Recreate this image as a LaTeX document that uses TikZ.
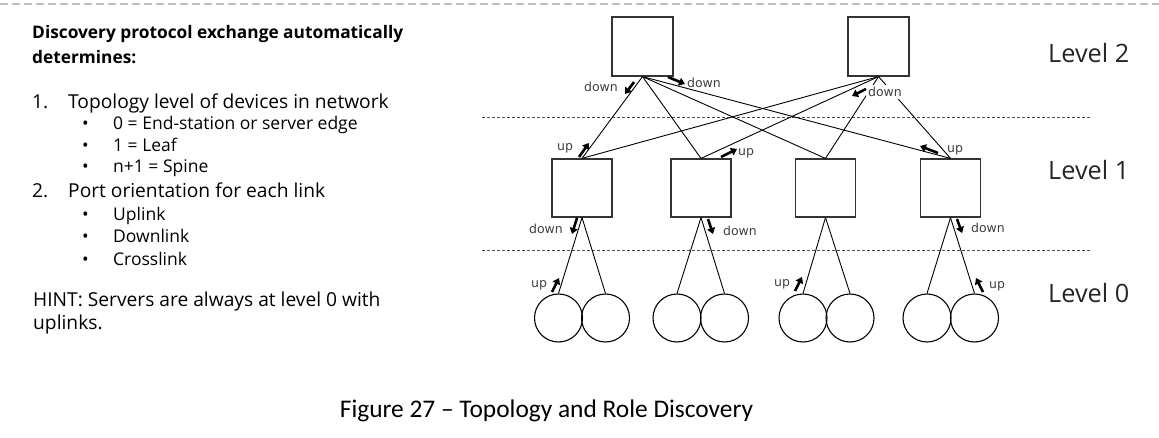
\documentclass[tikz,border=0pt]{standalone}
\usepackage{fontspec}
\setmainfont{Open Sans}
\newfontfamily\capfont{Carlito}
\newfontfamily\tagfont{DejaVu Sans}
\usetikzlibrary{arrows.meta}

\begin{document}
\begin{tikzpicture}[x=1pt,y=-1pt,
  switch/.style={draw=black!80,line width=1.2pt,minimum width=60pt,minimum height=58pt,inner sep=0pt},
  server/.style={draw=black,line width=1.1pt,circle,minimum size=48pt,inner sep=0pt},
  link/.style={black,line width=0.9pt},
  tag/.style={font=\tagfont\fontsize{12.5}{14}\selectfont,text=black!75,inner sep=1pt},
  mask/.style={fill=white,inner sep=2.5pt},
  dir/.style={line width=2.6pt,-{Triangle[length=6pt,width=8pt]}},
  levelline/.style={black!70,line width=1pt,dash pattern=on 3pt off 2pt},
  level/.style={font=\fontsize{25.3}{30}\selectfont,text=black!85,anchor=west,inner sep=0pt},
  txt/.style={anchor=base west,inner sep=0pt}]
\useasboundingbox (0,0) rectangle (1159,438);
\draw[black!25,line width=1.3pt,dash pattern=on 8pt off 4pt] (0,4) -- (1159,4);

% left text
\node[txt,font=\bfseries\fontsize{17.3}{21}\selectfont] (head1) at (32,39) {Discovery protocol exchange automatically};
\node[txt,font=\bfseries\fontsize{17.3}{21}\selectfont] (head2) at (32,64) {determines:};
\node[txt,font=\fontsize{19.2}{23}\selectfont] (num1) at (32,109) {1.};
\node[txt,font=\fontsize{19.2}{23}\selectfont] (item1) at (68,109) {Topology level of devices in network};
\node[txt,font=\fontsize{17.5}{21}\selectfont] (dot1) at (82,130) {•};
\node[txt,font=\fontsize{17.5}{21}\selectfont] (sub1) at (113,130) {0 = End-station or server edge};
\node[txt,font=\fontsize{17.5}{21}\selectfont] (dot2) at (82,152) {•};
\node[txt,font=\fontsize{17.5}{21}\selectfont] (sub2) at (113,152) {1 = Leaf};
\node[txt,font=\fontsize{17.5}{21}\selectfont] (dot3) at (82,173) {•};
\node[txt,font=\fontsize{17.5}{21}\selectfont] (sub3) at (113,173) {n+1 = Spine};
\node[txt,font=\fontsize{19.2}{23}\selectfont] (num2) at (32,198) {2.};
\node[txt,font=\fontsize{19.2}{23}\selectfont] (item2) at (68,198) {Port orientation for each link};
\node[txt,font=\fontsize{17.5}{21}\selectfont] (dot4) at (82,221) {•};
\node[txt,font=\fontsize{17.5}{21}\selectfont] (sub4) at (113,221) {Uplink};
\node[txt,font=\fontsize{17.5}{21}\selectfont] (dot5) at (82,243) {•};
\node[txt,font=\fontsize{17.5}{21}\selectfont] (sub5) at (113,243) {Downlink};
\node[txt,font=\fontsize{17.5}{21}\selectfont] (dot6) at (82,266) {•};
\node[txt,font=\fontsize{17.5}{21}\selectfont] (sub6) at (113,266) {Crosslink};
\node[txt,font=\fontsize{19.2}{23}\selectfont] (hint1) at (33,306) {HINT: Servers are always at level 0 with};
\node[txt,font=\fontsize{19.2}{23}\selectfont] (hint2) at (33,329) {uplinks.};

% levels
\draw[levelline] (482,118) -- (1090,118);
\draw[levelline] (482,251) -- (1090,251);
\node[level] (lev2) at (1048,53) {Level 2};
\node[level] (lev1) at (1048,170) {Level 1};
\node[level] (lev0) at (1048,293) {Level 0};

% spines and leaves
\node[switch,minimum width=61pt,minimum height=59pt] (s1) at (642.5,46.5) {};
\node[switch,minimum width=61pt,minimum height=59pt] (s2) at (878.5,46.5) {};
\node[switch] (l1) at (582,188) {};
\node[switch] (l2) at (701,188) {};
\node[switch] (l3) at (825.5,188) {};
\node[switch] (l4) at (950.5,188) {};

% servers
\node[server] (c1) at (558.5,318) {};
\node[server] (c2) at (605.5,318) {};
\node[server] (c3) at (677,318) {};
\node[server] (c4) at (724.5,318) {};
\node[server] (c5) at (803,318) {};
\node[server] (c6) at (850,318) {};
\node[server] (c7) at (927,318) {};
\node[server] (c8) at (974.5,318) {};

\foreach \s in {s1,s2}
  \foreach \l in {l1,l2,l3,l4}
    \draw[link] (\s.south) -- (\l.north);
\draw[link] (l1.south) -- (c1.north);
\draw[link] (l1.south) -- (c2.north);
\draw[link] (l2.south) -- (c3.north);
\draw[link] (l2.south) -- (c4.north);
\draw[link] (l3.south) -- (c5.north);
\draw[link] (l3.south) -- (c6.north);
\draw[link] (l4.south) -- (c7.north);
\draw[link] (l4.south) -- (c8.north);

% port tags
\node[tag] (d1) at (601,87) {down};
\node[tag] (d2) at (704,83) {down};
\node[tag,mask] (d3) at (885,92) {down};
\node[tag] (u1) at (565,148) {up};
\node[tag] (u2) at (746,153) {up};
\node[tag] (u3) at (955,150) {up};
\node[tag] (d4) at (546,229) {down};
\node[tag] (d5) at (740,231) {down};
\node[tag] (d6) at (988,228) {down};
\node[tag] (u4) at (539,285) {up};
\node[tag] (u5) at (782,284) {up};
\node[tag] (u6) at (997,286) {up};

\draw[dir] (634,82) -- (625,94);
\draw[dir] (668,77) -- (685,84);
\draw[dir] (866,89) -- (852,96);
\draw[dir] (579,157) -- (589,143);
\draw[dir] (721,157) -- (737,149);
\draw[dir] (938,153) -- (920,146);
\draw[dir] (577,218) -- (572,234);
\draw[dir] (708,219) -- (713,234);
\draw[dir] (957,219) -- (962,233);
\draw[dir] (552,292) -- (559,278);
\draw[dir] (795,291) -- (802,277);
\draw[dir] (983,292) -- (976,278);

\node[anchor=base,inner sep=0pt,font=\capfont\fontsize{25.4}{30}\selectfont] (caption) at (546.5,417) {Figure 27 – Topology and Role Discovery};
\end{tikzpicture}
\end{document}
